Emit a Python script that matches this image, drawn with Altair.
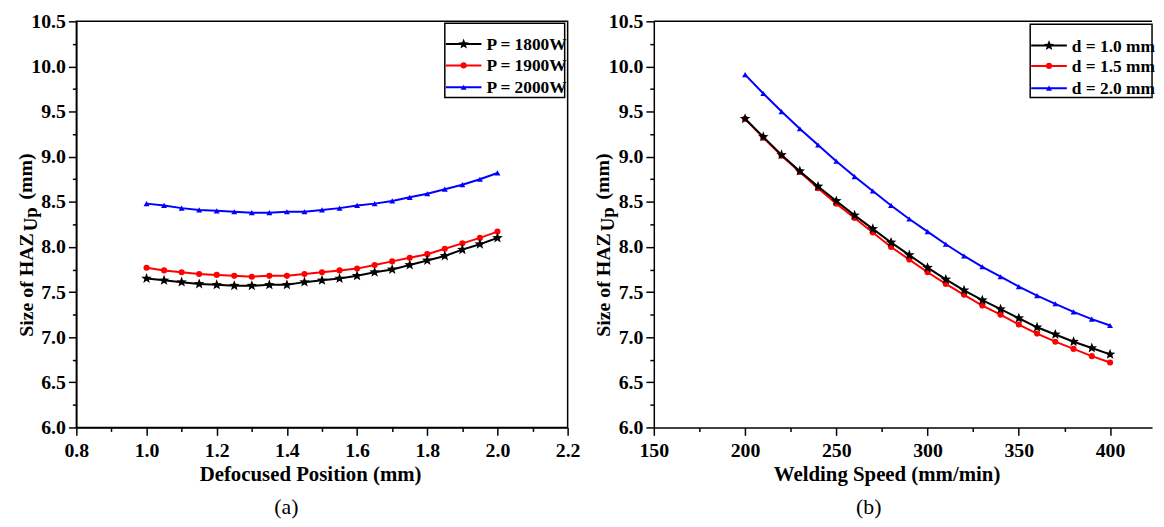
import math
import altair as alt
import pandas as pd

# ---------------- data ----------------
defocus = [1.00, 1.05, 1.10, 1.15, 1.20, 1.25, 1.30, 1.35, 1.40, 1.45, 1.50,
           1.55, 1.60, 1.65, 1.70, 1.75, 1.80, 1.85, 1.90, 1.95, 2.00]
haz_p1800 = [7.65, 7.63, 7.61, 7.59, 7.58, 7.57, 7.57, 7.58, 7.58, 7.61, 7.63,
             7.65, 7.68, 7.72, 7.75, 7.80, 7.85, 7.90, 7.97, 8.03, 8.10]
haz_p1900 = [7.77, 7.74, 7.72, 7.70, 7.69, 7.68, 7.67, 7.68, 7.68, 7.70, 7.72,
             7.74, 7.76, 7.80, 7.84, 7.88, 7.92, 7.98, 8.04, 8.10, 8.17]
haz_p2000 = [8.48, 8.46, 8.43, 8.41, 8.40, 8.39, 8.38, 8.38, 8.39, 8.39, 8.41,
             8.43, 8.46, 8.48, 8.51, 8.55, 8.59, 8.64, 8.69, 8.75, 8.82]

speed = [200, 210, 220, 230, 240, 250, 260, 270, 280, 290, 300,
         310, 320, 330, 340, 350, 360, 370, 380, 390, 400]
haz_d10 = [9.42, 9.22, 9.02, 8.84, 8.67, 8.51, 8.35, 8.20, 8.05, 7.91, 7.77,
           7.64, 7.52, 7.41, 7.31, 7.21, 7.11, 7.03, 6.95, 6.88, 6.81]
haz_d15 = [9.42, 9.21, 9.01, 8.83, 8.65, 8.48, 8.32, 8.16, 8.00, 7.86, 7.72,
           7.59, 7.47, 7.35, 7.25, 7.14, 7.04, 6.95, 6.87, 6.79, 6.72]
haz_d20 = [9.91, 9.70, 9.50, 9.31, 9.13, 8.95, 8.78, 8.62, 8.46, 8.31, 8.17,
           8.03, 7.90, 7.78, 7.67, 7.56, 7.46, 7.37, 7.28, 7.20, 7.13]

names_a = ["P = 1800W", "P = 1900W", "P = 2000W"]
names_b = ["d = 1.0 mm", "d = 1.5 mm", "d = 2.0 mm"]
colors = ["#000000", "#ff0000", "#0000ff"]

xticks_a = [0.8, 0.9, 1.0, 1.1, 1.2, 1.3, 1.4, 1.5, 1.6, 1.7, 1.8, 1.9, 2.0, 2.1, 2.2]
xticks_b = [150, 175, 200, 225, 250, 275, 300, 325, 350, 375, 400]
yticks = [6.0, 6.25, 6.5, 6.75, 7.0, 7.25, 7.5, 7.75, 8.0, 8.25, 8.5, 8.75,
          9.0, 9.25, 9.5, 9.75, 10.0, 10.25, 10.5]

# ---------------- styles ----------------
FONT = "Liberation Serif"
pts = []
for k in range(10):
    ang = math.radians(-90 + 36 * k)
    r = 1.0 if k % 2 == 0 else 0.42
    pts.append(f"{r * math.cos(ang):.3f},{r * math.sin(ang):.3f}")
STAR = "M" + " L".join(pts) + " Z"
shapes = [STAR, "circle", "triangle-up"]
sizes = [125, 38, 36]

H = 410
W_A = 496
W_B = 503


def major_test(mult):
    return f"abs(datum.value*{mult} - round(datum.value*{mult})) < 1e-6"


def make_axis(values, mult, fmt, title, title_x=None):
    test = major_test(mult)
    kw = dict(
        values=values,
        title=title,
        labelExpr=f"{test} ? format(datum.value, '{fmt}') : ''",
        tickSize={"condition": {"test": test, "value": 8}, "value": 4},
        labelOverlap=False,
        labelFlush=False,
        grid=False,
        domainColor="black", domainWidth=1.5, tickColor="black", tickWidth=1.5,
        labelFont=FONT, labelFontWeight="bold", labelFontSize=20, labelColor="black",
        titleFont=FONT, titleFontWeight="bold", titleFontSize=21, titleColor="black",
    )
    if title_x is not None:
        kw.update(titleX=title_x, titleY=48, titleBaseline="middle",
                  titleAnchor="middle", titleAlign="center", labelPadding=5)
    else:
        kw.update(labelPadding=3)
    return alt.Axis(**kw)


def panel(xs, ys_list, names, xdomain, xaxis, width, legend, caption, caption_x, frame):
    xenc = alt.X("x:Q", scale=alt.Scale(domain=xdomain, nice=False, zero=False), axis=xaxis)
    yenc = alt.Y("y:Q", scale=alt.Scale(domain=[6.0, 10.5], nice=False, zero=False),
                 axis=make_axis(yticks, 2, ".1f", ""))
    layers = []
    order = [2, 1, 0]
    for i in order:
        df = pd.DataFrame({"x": xs, "y": ys_list[i], "series": names[i]})
        layers.append(alt.Chart(df).mark_line(color=colors[i], strokeWidth=2).encode(x=xenc, y=yenc))
        layers.append(alt.Chart(df).mark_point(shape=shapes[i], filled=True, opacity=1,
                                               color=colors[i], size=sizes[i]).encode(x=xenc, y=yenc))
    # legend box
    lx0, lx1, ly0, ly1, row_y, line_x0, line_x1, text_x = legend
    layers.append(alt.Chart(pd.DataFrame({"a": [0]})).mark_rect(
        fill="white", stroke="black", strokeWidth=1.5).encode(
        x=alt.value(lx0), x2=alt.value(lx1), y=alt.value(ly0), y2=alt.value(ly1)))
    for i in range(3):
        one = pd.DataFrame({"name": [names[i]]})
        layers.append(alt.Chart(one).mark_rule(color=colors[i], strokeWidth=2).encode(
            x=alt.value(line_x0), x2=alt.value(line_x1), y=alt.value(row_y[i])))
        layers.append(alt.Chart(one).mark_point(shape=shapes[i], filled=True, opacity=1,
                                                color=colors[i], size=sizes[i]).encode(
            x=alt.value((line_x0 + line_x1) / 2), y=alt.value(row_y[i])))
        layers.append(alt.Chart(one).mark_text(
            align="left", baseline="middle", font=FONT, fontWeight="bold", fontSize=17.5,
            color="black").encode(x=alt.value(text_x), y=alt.value(row_y[i] + 1), text="name:N"))
    # y-axis title with subscript
    t = pd.DataFrame({"a": [0]})
    layers.append(alt.Chart(t).mark_text(
        text="Size of HAZ", angle=270, align="right", baseline="alphabetic",
        font=FONT, fontWeight="bold", fontSize=20, color="black").encode(
        x=alt.value(-44), y=alt.value(214)))
    layers.append(alt.Chart(t).mark_text(
        text="Up", angle=270, align="left", baseline="alphabetic",
        font=FONT, fontWeight="bold", fontSize=19, color="black").encode(
        x=alt.value(-40), y=alt.value(212)))
    layers.append(alt.Chart(t).mark_text(
        text="(mm)", angle=270, align="left", baseline="alphabetic",
        font=FONT, fontWeight="bold", fontSize=20, color="black").encode(
        x=alt.value(-45), y=alt.value(180)))
    # caption
    layers.append(alt.Chart(t).mark_text(
        text=caption, align="center", baseline="middle", font=FONT, fontSize=22,
        fontWeight="normal", color="black").encode(x=alt.value(caption_x), y=alt.value(H + 80)))
    if frame:
        view = alt.ViewBackground(stroke="black", strokeWidth=1.5)
    else:
        view = alt.ViewBackground(stroke="transparent")
        layers.append(alt.Chart(t).mark_rule(color="black", strokeWidth=1.5).encode(
            x=alt.value(0), x2=alt.value(width), y=alt.value(0)))
    return alt.layer(*layers).properties(width=width, height=H, view=view)


pa = panel(defocus, [haz_p1800, haz_p1900, haz_p2000], names_a, [0.8, 2.2],
           make_axis(xticks_a, 5, ".1f", "Defocused Position (mm)", title_x=236),
           W_A, (372, 493, 2, 77, [23, 44.5, 66.5], 373, 409, 414), "(a)", 212, True)
pb = panel(speed, [haz_d10, haz_d15, haz_d20], names_b, [150, 423],
           make_axis(xticks_b, 0.02, "d", "Welding Speed (mm/min)", title_x=235),
           W_B, (380, 503, 3, 77, [24.5, 45, 67.5], 381, 417, 422), "(b)", 217, False)

chart = alt.hconcat(pa, pb, spacing=11).properties(
    padding={"left": 7, "top": 0, "right": 0, "bottom": 0},
    background="white",
)

chart.save("out.html", embed_options={"renderer": "svg", "actions": False})
